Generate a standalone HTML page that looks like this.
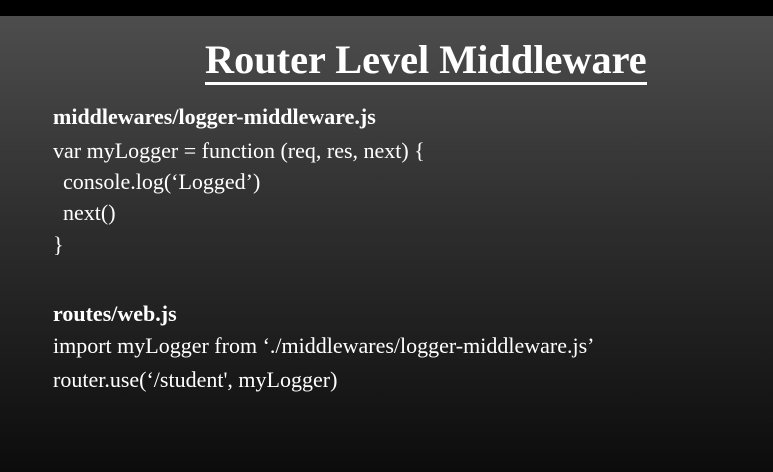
<!DOCTYPE html>
<html><head><style>
html,body{margin:0;padding:0;}
body{width:773px;height:472px;overflow:hidden;position:relative;background:#000;font-family:"Liberation Serif",serif;color:#fff;}
.bg{position:absolute;left:0;top:16px;width:773px;height:456px;background:linear-gradient(to bottom,#4d4d4d 0%,#2e2e2e 45%,#0c0c0c 100%);}
.t{position:absolute;white-space:nowrap;font-size:22px;line-height:24px;}
.b{font-weight:bold;}
.title{position:absolute;left:205px;top:38px;font-size:40.3px;font-weight:bold;line-height:44px;white-space:nowrap;border-bottom:3px solid #fff;padding-bottom:0;}
</style></head><body>
<div class="bg"></div>
<div class="title">Router Level Middleware</div>
<div class="t b" style="left:53px;top:105px">middlewares/logger-middleware.js</div>
<div class="t" style="left:53px;top:139px">var myLogger = function (req, res, next) {</div>
<div class="t" style="left:63px;top:170px">console.log(‘Logged’)</div>
<div class="t" style="left:63px;top:201px">next()</div>
<div class="t" style="left:53px;top:233px">}</div>
<div class="t b" style="left:53px;top:302px">routes/web.js</div>
<div class="t" style="left:53px;top:334px">import myLogger from ‘./middlewares/logger-middleware.js’</div>
<div class="t" style="left:53px;top:368px">router.use(‘/student', myLogger)</div>
</body></html>
